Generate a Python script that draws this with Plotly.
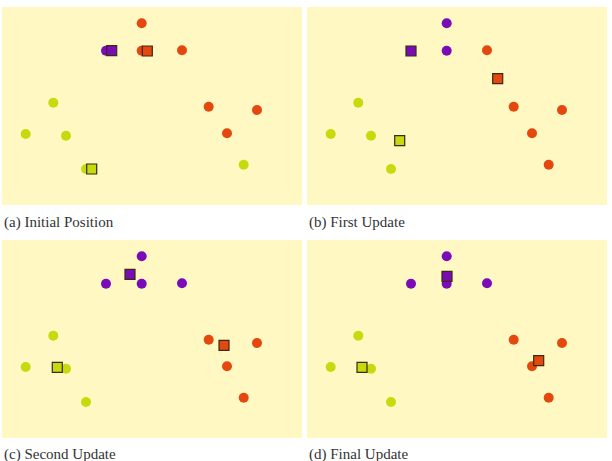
import plotly.graph_objects as go

# Data points (shared across all panels)
point_x = [139.7, 104.0, 139.7, 180.0, 51.3, 206.7, 255.0, 23.7, 64.0, 225.0, 241.7, 84.0]
point_y = [181.7, 154.3, 154.3, 154.7, 102.3, 98.3, 95.0, 71.0, 69.3, 71.7, 40.3, 36.0]

# Cluster assignment per panel (P = purple, O = orange, Y = yellow)
assign_a = ["O", "P", "O", "O", "Y", "O", "O", "Y", "Y", "O", "Y", "Y"]
assign_b = ["P", "P", "P", "O", "Y", "O", "O", "Y", "Y", "O", "O", "Y"]
assign_c = ["P", "P", "P", "P", "Y", "O", "O", "Y", "Y", "O", "O", "Y"]
assign_d = ["P", "P", "P", "P", "Y", "O", "O", "Y", "Y", "O", "O", "Y"]

# Centroid positions per panel, order: P, O, Y
cent_labels = ["P", "O", "Y"]
cent_a_x = [109.7, 145.3, 89.7]
cent_a_y = [154.3, 154.0, 36.0]
cent_b_x = [104.0, 190.7, 92.7]
cent_b_y = [154.0, 126.3, 64.3]
cent_c_x = [128.0, 222.0, 55.3]
cent_c_y = [163.7, 92.7, 70.7]
cent_d_x = [140.0, 231.7, 55.0]
cent_d_y = [161.7, 77.3, 70.7]

captions = ["(a) Initial Position", "(b) First Update", "(c) Second Update", "(d) Final Update"]

colors = {"P": "#7A0CB8", "O": "#E4480E", "Y": "#C6DB0E"}
bg = "#FFF8C2"

W, H = 612, 461
panels = [
    (assign_a, cent_a_x, cent_a_y, (2, 302), (7, 205)),
    (assign_b, cent_b_x, cent_b_y, (307, 607), (7, 205)),
    (assign_c, cent_c_x, cent_c_y, (2, 302), (240, 438)),
    (assign_d, cent_d_x, cent_d_y, (307, 607), (240, 438)),
]
caption_pos = [(2, 222), (307, 222), (2, 454), (307, 454)]

fig = go.Figure()
layout = {}
for i, (assign, cx, cy, (x0, x1), (y0, y1)) in enumerate(panels):
    n = "" if i == 0 else str(i + 1)
    xa, ya = "x" + n, "y" + n
    fig.add_trace(go.Scatter(
        x=point_x, y=point_y, mode="markers", xaxis=xa, yaxis=ya,
        marker=dict(symbol="circle", size=10, color=[colors[a] for a in assign], line=dict(width=0)),
        showlegend=False, hoverinfo="skip"))
    fig.add_trace(go.Scatter(
        x=cx, y=cy, mode="markers", xaxis=xa, yaxis=ya,
        marker=dict(symbol="square", size=10, color=[colors[c] for c in cent_labels],
                    line=dict(width=1.2, color="#3a2a10")),
        showlegend=False, hoverinfo="skip"))
    layout["xaxis" + n] = dict(domain=[x0 / W, x1 / W], range=[0, 300], visible=False,
                               anchor=ya, fixedrange=True)
    layout["yaxis" + n] = dict(domain=[1 - y1 / H, 1 - y0 / H], range=[0, 198], visible=False,
                               anchor=xa, fixedrange=True)
    fig.add_shape(type="rect", xref="paper", yref="paper", x0=x0 / W, x1=x1 / W,
                  y0=1 - y1 / H, y1=1 - y0 / H, fillcolor=bg, line=dict(width=0), layer="below")

for cap, (px, py) in zip(captions, caption_pos):
    fig.add_annotation(text=cap, xref="paper", yref="paper", x=px / W, y=1 - py / H,
                       xanchor="left", yanchor="middle", showarrow=False,
                       font=dict(family="Liberation Serif", size=15, color="#333333"))

fig.update_layout(width=W, height=H, margin=dict(l=0, r=0, t=0, b=0),
                  paper_bgcolor="white", plot_bgcolor="rgba(0,0,0,0)", **layout)
fig.write_html("out.html")
